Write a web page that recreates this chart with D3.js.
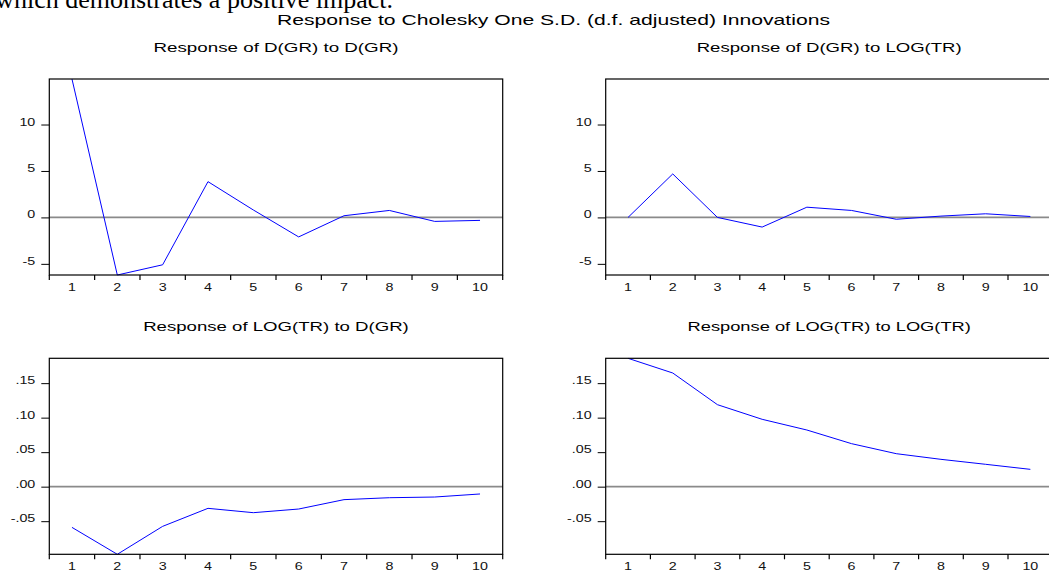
<!DOCTYPE html>
<html lang="en">
<head>
    <meta charset="UTF-8">
    <title>Response to Cholesky One S.D. Innovations</title>
    <script src="https://cdnjs.cloudflare.com/ajax/libs/d3/7.8.5/d3.min.js"></script>
    <style>
        body { margin: 0; background: #fff; }
        svg { display: block; font-family: "Liberation Sans", Arial, sans-serif; }
        .box { fill: none; stroke: #000; stroke-width: 1.2; }
        .zero { stroke: #8a8a8a; stroke-width: 1.6; }
        .irf { fill: none; stroke: #0000ff; stroke-width: 1; }
        .tick line { stroke: #000; }
        .tick text { fill: #111; font-size: 10px; }
    </style>
</head>
<body>
    <div id="chart"></div>

    <script>
        // Periods after the shock
        const periods = [1, 2, 3, 4, 5, 6, 7, 8, 9, 10];

        // Impulse responses
        const dgrToDgr = [14.9, -6.2, -5.1, 3.85, 0.8, -2.1, 0.18, 0.75, -0.43, -0.32];
        const dgrToLogtr = [0.0, 4.68, 0.0, -1.04, 1.1, 0.75, -0.2, 0.14, 0.39, 0.1];
        const logtrToDgr = [-0.059, -0.098, -0.0575, -0.0314, -0.0377, -0.0324, -0.0188, -0.016, -0.015, -0.0106];
        const logtrToLogtr = [0.186, 0.1647, 0.1188, 0.0976, 0.0821, 0.0623, 0.0478, 0.0396, 0.0324, 0.0251];

        // Axis ticks
        const ticksTop = [-5, 0, 5, 10];
        const ticksBottom = [-0.05, 0, 0.05, 0.10, 0.15];
        const tickLabelsBottom = ["-.05", ".00", ".05", ".10", ".15"];

        const mainTitle = "Response to Cholesky One S.D. (d.f. adjusted) Innovations";
        const panelTitles = [
            "Response of D(GR) to D(GR)",
            "Response of D(GR) to LOG(TR)",
            "Response of LOG(TR) to D(GR)",
            "Response of LOG(TR) to LOG(TR)"
        ];

        const width = 1049, height = 570;
        const stretch = 1.43; // the original picture is squeezed wider than it is tall

        const svg = d3.select("#chart").append("svg")
            .attr("width", width)
            .attr("height", height);

        // leftover sentence from the document above the figure
        svg.append("text")
            .attr("x", 393).attr("y", 7.5)
            .attr("text-anchor", "end")
            .style("font-family", "'Liberation Serif', 'Times New Roman', serif")
            .style("font-size", "26px")
            .text("which demonstrates a positive impact.");

        svg.append("text")
            .attr("x", 277).attr("y", 25)
            .attr("textLength", 553)
            .attr("lengthAdjust", "spacingAndGlyphs")
            .style("font-size", "15px")
            .text(mainTitle);

        const panels = [
            { x0: 49.3, x1: 502.7, y0: 79, y1: 275, domain: [-6.2, 14.9], values: dgrToDgr,
              ticks: ticksTop, labels: ticksTop.map(String), title: panelTitles[0], titleW: 245 },
            { x0: 605.7, x1: 1052.7, y0: 79, y1: 275, domain: [-6.2, 14.9], values: dgrToLogtr,
              ticks: ticksTop, labels: ticksTop.map(String), title: panelTitles[1], titleW: 265 },
            { x0: 49.3, x1: 502.7, y0: 358.3, y1: 554.3, domain: [-0.098, 0.186], values: logtrToDgr,
              ticks: ticksBottom, labels: tickLabelsBottom, title: panelTitles[2], titleW: 265.6 },
            { x0: 605.7, x1: 1052.7, y0: 358.3, y1: 554.3, domain: [-0.098, 0.186], values: logtrToLogtr,
              ticks: ticksBottom, labels: tickLabelsBottom, title: panelTitles[3], titleW: 283.3 }
        ];

        panels.forEach((p, i) => {
            const x = d3.scaleBand().domain(periods).range([p.x0, p.x1]).padding(0);
            const y = d3.scaleLinear().domain(p.domain).range([p.y1, p.y0]);
            const bw = x.bandwidth();
            const g = svg.append("g");

            g.append("clipPath").attr("id", "clip" + i)
                .append("rect")
                .attr("x", p.x0).attr("y", p.y0 - 1)
                .attr("width", p.x1 - p.x0).attr("height", p.y1 - p.y0 + 2);

            // panel title, centred over the plot
            g.append("text")
                .attr("x", (p.x0 + p.x1) / 2 - p.titleW / 2)
                .attr("y", p.y0 - 27)
                .attr("textLength", p.titleW)
                .attr("lengthAdjust", "spacingAndGlyphs")
                .style("font-size", "13.5px")
                .text(p.title);

            // zero reference line
            g.append("line")
                .attr("class", "zero")
                .attr("x1", p.x0).attr("x2", p.x1)
                .attr("y1", y(0)).attr("y2", y(0));

            // response line
            const line = d3.line()
                .x((d, j) => x(periods[j]) + bw / 2)
                .y(d => y(d));

            g.append("path")
                .datum(p.values)
                .attr("class", "irf")
                .attr("clip-path", `url(#clip${i})`)
                .attr("d", line);

            g.append("rect")
                .attr("class", "box")
                .attr("x", p.x0).attr("y", p.y0)
                .attr("width", p.x1 - p.x0).attr("height", p.y1 - p.y0);

            // y axis
            const yAxis = g.append("g")
                .attr("transform", `translate(${p.x0},0)`)
                .call(d3.axisLeft(y)
                    .tickValues(p.ticks)
                    .tickFormat((d, j) => p.labels[j])
                    .tickSize(8));
            yAxis.select(".domain").remove();
            yAxis.selectAll(".tick text")
                .attr("x", -14 / stretch)
                .attr("dy", "0.05em")
                .attr("transform", `scale(${stretch},1)`);

            // x axis: labels centred in each period, ticks on period edges
            const xAxis = g.append("g")
                .attr("transform", `translate(0,${p.y1})`)
                .call(d3.axisBottom(x).tickSize(0));
            xAxis.select(".domain").remove();
            xAxis.selectAll(".tick text")
                .attr("y", 16)
                .attr("dy", 0)
                .attr("transform", `scale(${stretch},1)`);

            const edges = [p.x0].concat(periods.map(d => x(d) + bw));
            g.selectAll(".edge")
                .data(edges)
                .join("line")
                .attr("class", "edge")
                .attr("stroke", "#000")
                .attr("stroke-width", 1.2)
                .attr("x1", d => d).attr("x2", d => d)
                .attr("y1", p.y1).attr("y2", p.y1 + 5);
        });
    </script>
</body>
</html>
